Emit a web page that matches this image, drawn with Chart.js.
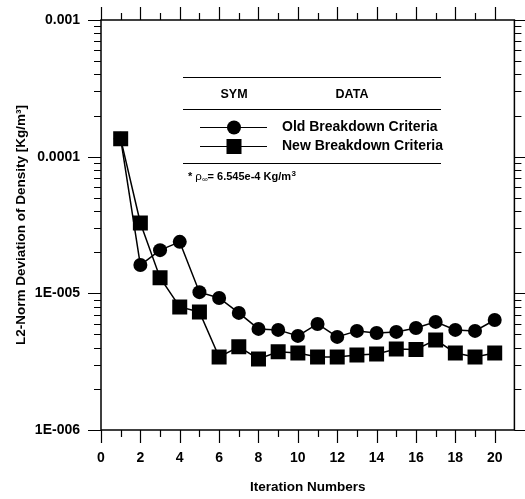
<!DOCTYPE html>
<html>
<head>
<meta charset="utf-8">
<script src="https://cdn.jsdelivr.net/npm/chart.js@4/dist/chart.umd.min.js"></script>
<style>
html, body { margin: 0; padding: 0; background: #fff; }
#wrap { width: 525px; height: 499px; }
</style>
</head>
<body>
<div id="wrap"><canvas id="chart" width="525" height="499"></canvas></div>
<script>
// iteration numbers and L2-norm deviation values
const iterations = [1, 2, 3, 4, 5, 6, 7, 8, 9, 10, 11, 12, 13, 14, 15, 16, 17, 18, 19, 20];
const oldCriteria = [1.35e-4, 1.61e-5, 2.07e-5, 2.38e-5, 1.02e-5, 9.25e-6, 7.19e-6, 5.49e-6, 5.40e-6, 4.88e-6,
  5.97e-6, 4.80e-6, 5.31e-6, 5.13e-6, 5.22e-6, 5.58e-6, 6.18e-6, 5.40e-6, 5.31e-6, 6.38e-6];
const newCriteria = [1.35e-4, 3.27e-5, 1.30e-5, 7.95e-6, 7.31e-6, 3.42e-6, 4.06e-6, 3.31e-6, 3.73e-6, 3.66e-6,
  3.42e-6, 3.42e-6, 3.54e-6, 3.60e-6, 3.92e-6, 3.88e-6, 4.56e-6, 3.66e-6, 3.42e-6, 3.66e-6];
const xTickLabels = ["0", "2", "4", "6", "8", "10", "12", "14", "16", "18", "20"];
const yTickLabels = ["1E-006", "1E-005", "0.0001", "0.001"];
const yDecades = [1e-6, 1e-5, 1e-4, 1e-3];

const FONT = "'Liberation Sans', Arial, sans-serif";
Chart.defaults.font.family = FONT;
Chart.defaults.font.weight = "bold";
Chart.defaults.color = "#000";

function toPoints(values) {
  return iterations.map((it, i) => ({ x: it, y: values[i] }));
}

// frame + tick marks on all four sides
const framePlugin = {
  id: "frame",
  afterDraw(chart) {
    const ctx = chart.ctx;
    const a = chart.chartArea;
    const xs = chart.scales.x;
    const ys = chart.scales.y;
    ctx.save();
    ctx.strokeStyle = "#000";
    ctx.lineWidth = 1.5;
    ctx.strokeRect(a.left, a.top, a.right - a.left, a.bottom - a.top);
    ctx.beginPath();
    for (let v = 0; v <= 20; v++) {
      const px = Math.round(xs.getPixelForValue(v)) + 0.5;
      const len = v % 2 === 0 ? 13 : 7;
      ctx.moveTo(px, a.bottom); ctx.lineTo(px, a.bottom + len);
      ctx.moveTo(px, a.top); ctx.lineTo(px, a.top - len);
    }
    yDecades.forEach((d, i) => {
      for (let m = 1; m <= 9; m++) {
        if (i === yDecades.length - 1 && m > 1) break;
        const py = Math.round(ys.getPixelForValue(d * m)) + 0.5;
        const len = m === 1 ? 13 : 7;
        ctx.moveTo(a.left, py); ctx.lineTo(a.left - len, py);
        ctx.moveTo(a.right, py); ctx.lineTo(a.right + len, py);
      }
    });
    ctx.lineWidth = 1.2;
    ctx.stroke();
    ctx.restore();
  }
};

// boxed legend with the freestream density note
const legendPlugin = {
  id: "boxLegend",
  afterDraw(chart) {
    const ctx = chart.ctx;
    ctx.save();
    ctx.strokeStyle = "#000";
    ctx.fillStyle = "#000";
    ctx.lineWidth = 1;
    ctx.beginPath();
    [77.5, 109.5, 163.5].forEach(y => { ctx.moveTo(183, y); ctx.lineTo(441, y); });
    ctx.moveTo(200, 127.5); ctx.lineTo(267, 127.5);
    ctx.moveTo(200, 146.5); ctx.lineTo(267, 146.5);
    ctx.stroke();
    ctx.beginPath();
    ctx.arc(234, 127.5, 7, 0, Math.PI * 2);
    ctx.fill();
    ctx.fillRect(226.5, 139, 15, 15);

    ctx.textBaseline = "middle";
    ctx.font = "bold 12.5px " + FONT;
    ctx.textAlign = "center";
    ctx.fillText("SYM", 234, 95);
    ctx.fillText("DATA", 352, 95);
    ctx.textAlign = "left";
    ctx.font = "bold 14px " + FONT;
    ctx.fillText("Old Breakdown Criteria", 282, 127);
    ctx.fillText("New Breakdown Criteria", 282, 146);

    ctx.font = "bold 11px " + FONT;
    let x = 188;
    const y = 177;
    ctx.fillText("* ", x, y); x += ctx.measureText("* ").width;
    ctx.font = "11.5px " + FONT;
    ctx.fillText("\u03c1", x, y); x += ctx.measureText("\u03c1").width;
    ctx.font = "8px " + FONT;
    ctx.fillText("\u221e", x, y + 3); x += ctx.measureText("\u221e").width;
    ctx.font = "bold 11px " + FONT;
    const t = "= 6.545e-4 Kg/m";
    ctx.fillText(t, x, y); x += ctx.measureText(t).width;
    ctx.font = "bold 8px " + FONT;
    ctx.fillText("3", x + 0.5, y - 3);
    ctx.restore();
  }
};

new Chart(document.getElementById("chart"), {
  type: "line",
  data: {
    datasets: [
      {
        label: "Old Breakdown Criteria",
        data: toPoints(oldCriteria),
        borderColor: "#000",
        backgroundColor: "#000",
        borderWidth: 1.5,
        pointStyle: "circle",
        pointRadius: 7,
        pointBorderWidth: 0,
        tension: 0
      },
      {
        label: "New Breakdown Criteria",
        data: toPoints(newCriteria),
        borderColor: "#000",
        backgroundColor: "#000",
        borderWidth: 1.5,
        pointStyle: "rect",
        pointRadius: 10.6,
        pointBorderWidth: 0,
        tension: 0
      }
    ]
  },
  options: {
    responsive: false,
    animation: false,
    layout: { padding: { top: 20, right: 10, left: 0, bottom: 0 } },
    plugins: {
      legend: { display: false },
      tooltip: { enabled: false }
    },
    scales: {
      x: {
        type: "linear",
        min: 0,
        max: 21,
        grid: { display: false, drawTicks: false },
        border: { display: false },
        afterBuildTicks(scale) {
          scale.ticks = xTickLabels.map(l => ({ value: Number(l) }));
        },
        afterFit(scale) { scale.height = 69; },
        ticks: {
          padding: 20,
          font: { size: 14, weight: "bold" },
          maxRotation: 0,
          callback: (v, i) => xTickLabels[i]
        },
        title: {
          display: true,
          text: "Iteration Numbers",
          font: { size: 13.5, weight: "bold" },
          padding: { top: 0, bottom: 4 }
        }
      },
      y: {
        type: "logarithmic",
        min: 1e-6,
        max: 1e-3,
        grid: { display: false, drawTicks: false },
        border: { display: false },
        afterBuildTicks(scale) {
          scale.ticks = yDecades.map(v => ({ value: v }));
        },
        afterFit(scale) {
          scale.width = 101;
          scale.paddingTop = 0;
          scale.paddingBottom = 0;
        },
        ticks: {
          padding: 21,
          font: { size: 14, weight: "bold" },
          callback: (v, i) => yTickLabels[i]
        },
        title: {
          display: true,
          text: "L2-Norm Deviation of Density [Kg/m\u00b3]",
          font: { size: 13.5, weight: "bold" },
          padding: { top: 13, bottom: 0 }
        }
      }
    }
  },
  plugins: [framePlugin, legendPlugin]
});
</script>
</body>
</html>
